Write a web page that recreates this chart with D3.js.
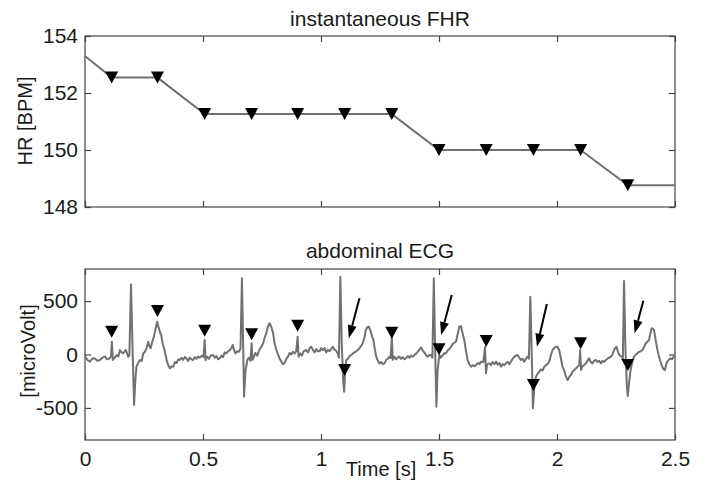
<!DOCTYPE html>
<html><head><meta charset="utf-8">
<script src="https://cdn.jsdelivr.net/npm/d3@7"></script>
<style>body{margin:0;background:#fff} svg text{font-family:"Liberation Sans",Arial,sans-serif;fill:#1a1a1a}</style>
</head><body><svg id="c" width="702" height="480"></svg>
<script>
// ---- data ----
const beatTimes = [0.113, 0.307, 0.507, 0.706, 0.901, 1.100, 1.300, 1.500, 1.700, 1.900, 2.100, 2.300];
const fhrValues = [152.54, 152.54, 151.26, 151.26, 151.26, 151.26, 151.26, 150.0, 150.0, 150.0, 150.0, 148.76];
const fhrStart = [0, 153.3];
const fhrEnd = [2.5, 148.76];
const ecgMarkerValues = [213, 407, 223, 189, 270, -145, 204, 49, 126, -285, 105, -98];

const ecgTimes = [0.000,0.010,0.021,0.030,0.042,0.052,0.063,0.073,0.085,0.093,0.103,0.110,0.114,0.118,0.126,0.134,0.141,0.148,0.155,0.162,0.168,0.173,0.178,0.183,0.188,0.195,0.201,0.208,0.213,0.218,0.225,0.233,0.240,0.247,0.254,0.261,0.268,0.273,0.278,0.285,0.292,0.300,0.306,0.310,0.317,0.323,0.329,0.337,0.346,0.353,0.360,0.367,0.374,0.381,0.388,0.395,0.402,0.410,0.416,0.423,0.430,0.437,0.444,0.451,0.458,0.465,0.472,0.479,0.486,0.496,0.502,0.507,0.511,0.518,0.525,0.533,0.543,0.550,0.557,0.564,0.571,0.578,0.585,0.592,0.599,0.606,0.613,0.620,0.626,0.632,0.638,0.645,0.653,0.659,0.665,0.670,0.674,0.680,0.688,0.695,0.701,0.706,0.710,0.716,0.722,0.730,0.738,0.747,0.754,0.761,0.768,0.775,0.782,0.789,0.797,0.804,0.811,0.818,0.825,0.832,0.839,0.846,0.853,0.860,0.867,0.874,0.881,0.888,0.895,0.901,0.905,0.912,0.919,0.926,0.937,0.945,0.952,0.959,0.966,0.973,0.980,0.987,0.994,1.001,1.008,1.015,1.022,1.029,1.036,1.043,1.050,1.057,1.064,1.071,1.076,1.082,1.088,1.094,1.098,1.103,1.107,1.114,1.121,1.128,1.135,1.142,1.149,1.156,1.163,1.170,1.177,1.184,1.190,1.196,1.203,1.210,1.216,1.222,1.228,1.234,1.241,1.248,1.255,1.262,1.269,1.276,1.283,1.290,1.295,1.300,1.304,1.311,1.318,1.325,1.332,1.339,1.346,1.354,1.361,1.368,1.375,1.382,1.389,1.396,1.403,1.410,1.417,1.424,1.431,1.440,1.446,1.452,1.459,1.466,1.472,1.478,1.484,1.489,1.494,1.499,1.502,1.506,1.515,1.522,1.530,1.537,1.544,1.551,1.558,1.565,1.572,1.579,1.586,1.593,1.600,1.607,1.614,1.621,1.628,1.636,1.643,1.650,1.657,1.664,1.671,1.678,1.688,1.695,1.699,1.704,1.713,1.720,1.727,1.735,1.742,1.749,1.756,1.763,1.770,1.777,1.784,1.791,1.798,1.805,1.812,1.819,1.826,1.833,1.840,1.847,1.854,1.861,1.868,1.875,1.881,1.887,1.893,1.898,1.904,1.911,1.918,1.925,1.932,1.939,1.946,1.953,1.960,1.967,1.974,1.981,1.988,1.995,2.002,2.009,2.016,2.023,2.030,2.037,2.045,2.052,2.059,2.066,2.073,2.080,2.087,2.094,2.098,2.102,2.108,2.115,2.122,2.129,2.136,2.143,2.150,2.157,2.164,2.171,2.179,2.186,2.193,2.200,2.207,2.214,2.221,2.228,2.235,2.242,2.247,2.252,2.258,2.264,2.270,2.274,2.279,2.284,2.290,2.296,2.300,2.306,2.312,2.320,2.327,2.334,2.341,2.348,2.355,2.362,2.369,2.376,2.383,2.390,2.396,2.401,2.406,2.411,2.418,2.425,2.432,2.439,2.446,2.452,2.457,2.462,2.467,2.474,2.481,2.488,2.495,2.500];
const ecgValues = [-20,-50,-67,-40,-36,-60,-51,-30,-20,-45,-36,-20,120,-51,-30,-5,-20,42,20,11,30,42,10,-20,-10,655,100,-472,-250,-114,-80,-51,-60,10,26,60,120,80,58,120,167,250,307,270,213,180,105,40,-51,-100,-129,-110,-114,-70,-80,-45,-51,-30,-50,-25,-36,-60,-30,-45,-51,-25,-40,-20,-30,-10,-25,136,-51,-20,-40,-10,-5,-30,-15,-45,-36,-10,-25,20,11,30,40,58,89,40,11,30,26,60,713,100,-395,-150,-51,-30,-60,105,-50,-20,14,-10,40,73,100,154,200,260,294,260,200,100,42,0,-40,-67,-90,-80,-40,-20,14,0,25,10,30,167,-20,10,-10,30,42,20,60,73,40,20,50,30,30,60,40,60,20,45,30,50,73,45,35,10,-30,728,100,-250,-348,-120,-51,-40,-15,-5,10,20,30,42,60,80,105,160,230,255,260,220,170,136,50,-20,-60,-83,-70,-90,-83,-50,-40,-20,-35,167,-50,-20,-45,-30,-20,-40,-25,-45,-33,-15,-30,-10,-20,-5,10,26,45,67,40,11,-10,-20,-5,-5,-30,713,0,-488,-145,-51,-5,-30,-10,11,11,40,50,73,100,110,120,190,260,265,200,136,40,-51,-90,-114,-100,-110,-98,-80,-90,-67,-70,73,-175,-90,-83,-100,-70,-90,-67,-95,-80,-114,-90,-100,-83,-70,-90,-67,-40,-20,-10,-5,-30,-51,-40,-67,-40,-20,-40,541,0,-503,-300,-207,-180,-161,-140,-150,-114,-100,-90,-67,-10,42,60,73,73,42,-30,-114,-145,-200,-239,-210,-192,-160,-145,-130,-114,-100,42,-145,-110,-100,-83,-60,-36,-70,-83,-60,-51,-70,-60,-83,-60,-70,-51,-40,-30,-20,0,42,60,73,30,-5,-15,-20,-40,688,50,-300,-388,-250,-145,-51,-20,0,11,25,30,42,70,105,120,136,200,245,240,230,136,50,-20,-70,-114,-140,-145,-100,-67,-50,-36,-45,-20,-15];

const arrowTailT = [1.163, 1.554, 1.957, 2.366];
const arrowTailV = [526, 557, 472, 503];
const arrowHeadT = [1.118, 1.509, 1.915, 2.329];
const arrowHeadV = [152, 182, 73, 198];

const xTicks = [0, 0.5, 1, 1.5, 2, 2.5];
const xTickLabels = ["0", "0.5", "1", "1.5", "2", "2.5"];
const hrTicks = [148, 150, 152, 154];
const hrTickLabels = ["148", "150", "152", "154"];
const uvTicks = [-500, 0, 500];
const uvTickLabels = ["-500", "0", "500"];

// ---- drawing ----
const svg = d3.select("#c");
const L = 85, R = 675;
const x = d3.scaleLinear().domain([0, 2.5]).range([L, R]);
const yTop = d3.scaleLinear().domain([148, 154]).range([207, 36]);
const yBot = d3.scaleLinear().domain([-800, 800]).range([440, 269]);
const axisColor = "#444", lineColor = "#717171", FS = 21, LFS = 20;

function frame(y, yT, yLabels, xLabelsShown) {
  const g = svg.append("g");
  const [y0, y1] = y.range();
  g.append("rect").attr("x", L).attr("y", y1).attr("width", R - L).attr("height", y0 - y1)
    .attr("fill", "none").attr("stroke", axisColor).attr("stroke-width", 1.2);
  const style = a => { a.select(".domain").remove(); a.selectAll(".tick line").attr("stroke", axisColor).attr("stroke-width", 1.2);
    a.selectAll("text").attr("font-size", FS).attr("fill", "#1a1a1a").attr("font-family", '"Liberation Sans",Arial,sans-serif'); };
  g.append("g").attr("transform", `translate(0,${y0})`)
    .call(d3.axisBottom(x).tickValues(xTicks).tickSize(-6).tickPadding(11)
      .tickFormat((d, i) => xLabelsShown ? xTickLabels[i] : "")).call(style);
  g.append("g").attr("transform", `translate(0,${y1})`)
    .call(d3.axisTop(x).tickValues(xTicks).tickSize(-6).tickFormat("")).call(style);
  g.append("g").attr("transform", `translate(${L},0)`)
    .call(d3.axisLeft(y).tickValues(yT).tickSize(-6).tickPadding(7).tickFormat((d, i) => yLabels[i])).call(style);
  g.append("g").attr("transform", `translate(${R},0)`)
    .call(d3.axisRight(y).tickValues(yT).tickSize(-6).tickFormat("")).call(style);
  return g;
}

const tri = (cx, cy) => `M${cx - 6.5},${cy - 6}L${cx + 6.5},${cy - 6}L${cx},${cy + 6}Z`;

// top panel
frame(yTop, hrTicks, hrTickLabels, false);
const fhrPts = [fhrStart].concat(beatTimes.map((t, i) => [t, fhrValues[i]]), [fhrEnd]);
svg.append("path").datum(fhrPts)
  .attr("d", d3.line().x(d => x(d[0])).y(d => yTop(d[1])))
  .attr("fill", "none").attr("stroke", lineColor).attr("stroke-width", 2);
svg.append("g").selectAll("path").data(beatTimes).join("path")
  .attr("d", (t, i) => tri(x(t), yTop(fhrValues[i]))).attr("fill", "#000");

// bottom panel
frame(yBot, uvTicks, uvTickLabels, true);
svg.append("path").datum(ecgTimes.map((t, i) => [t, ecgValues[i]]))
  .attr("d", d3.line().x(d => x(d[0])).y(d => yBot(d[1])))
  .attr("fill", "none").attr("stroke", lineColor).attr("stroke-width", 2).attr("stroke-linejoin", "round");
svg.append("g").selectAll("path").data(beatTimes).join("path")
  .attr("d", (t, i) => tri(x(t), yBot(ecgMarkerValues[i]))).attr("fill", "#000");

// arrows
arrowTailT.forEach((t, i) => {
  const x0 = x(t), y0 = yBot(arrowTailV[i]), x1 = x(arrowHeadT[i]), y1 = yBot(arrowHeadV[i]);
  const dx = x1 - x0, dy = y1 - y0, len = Math.hypot(dx, dy), ux = dx / len, uy = dy / len;
  const hl = 13, hw = 4.5;
  const bx = x1 - ux * hl, by = y1 - uy * hl;
  svg.append("line").attr("x1", x0).attr("y1", y0).attr("x2", bx).attr("y2", by)
    .attr("stroke", "#000").attr("stroke-width", 2);
  svg.append("path").attr("d", `M${x1},${y1}L${bx - uy * hw},${by + ux * hw}L${bx + uy * hw},${by - ux * hw}Z`).attr("fill", "#000");
});

// titles & labels
svg.append("text").attr("x", 380).attr("y", 26).attr("text-anchor", "middle").attr("font-size", FS).text("instantaneous FHR");
svg.append("text").attr("x", 380).attr("y", 258).attr("text-anchor", "middle").attr("font-size", FS).text("abdominal ECG");
svg.append("text").attr("x", 381).attr("y", 476).attr("text-anchor", "middle").attr("font-size", LFS).text("Time [s]");
svg.append("text").attr("transform", "translate(32,121) rotate(-90)").attr("text-anchor", "middle").attr("font-size", LFS).text("HR [BPM]");
svg.append("text").attr("transform", "translate(35,351) rotate(-90)").attr("text-anchor", "middle").attr("font-size", LFS).text("[microVolt]");
</script></body></html>
